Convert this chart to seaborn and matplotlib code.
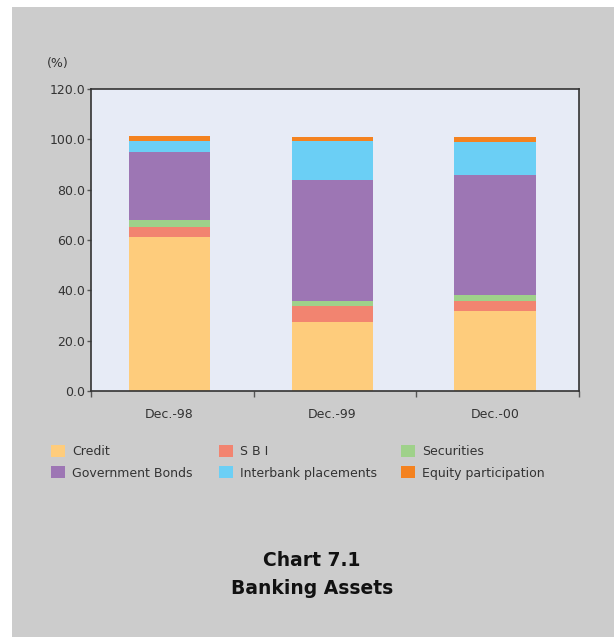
import matplotlib
matplotlib.use("Agg")
import matplotlib.pyplot as plt
from matplotlib.patches import Rectangle, Patch
import numpy as np
import pandas as pd
import seaborn as sns

# data (% of total banking assets)
periods = ["Dec.-98", "Dec.-99", "Dec.-00"]
series = ["Credit", "S B I", "Securities", "Government Bonds",
          "Interbank placements", "Equity participation"]
credit = [61.0, 27.6, 31.6]
sbi = [4.0, 6.0, 4.0]
securities = [3.1, 2.0, 2.7]
gov_bonds = [27.0, 48.4, 47.6]
interbank = [4.3, 15.4, 13.2]
equity = [2.0, 1.6, 1.9]
colors = ["#FECC7C", "#F28470", "#9FD18A", "#9D76B4", "#6BCFF5", "#F4821F"]

values = [credit, sbi, securities, gov_bonds, interbank, equity]
df = pd.DataFrame({"period": periods})
for name, v in zip(series, values):
    df[name] = v
# cumulative tops for stacking
cum = df[series].cumsum(axis=1)

sns.set_style("white")
plt.rcParams["font.family"] = ["DejaVu Sans"]
txt = "#333333"

fig = plt.figure(figsize=(6.14, 6.37), dpi=100)
fig.patch.set_facecolor("white")
fig.patches.append(Rectangle((12 / 614, 0), 1, 1 - 7 / 637, transform=fig.transFigure,
                             facecolor="#CCCCCC", edgecolor="none", zorder=-1))

ax = fig.add_axes([91 / 614, 1 - 391 / 637, 488 / 614, 302 / 637])
ax.set_facecolor("#E7EBF6")

# draw from the top layer down so lower layers cover the upper ones
for name, c in reversed(list(zip(series, colors))):
    plot_df = pd.DataFrame({"period": periods, "top": cum[name].values})
    sns.barplot(data=plot_df, x="period", y="top", color=c, width=0.5,
                saturation=1, ax=ax, edgecolor="none", linewidth=0)

# bars sit a touch left of the category centres in the original
d = 0.017
ax.set_xlim(-0.5 + d, 2.5 + d)
ax.set_ylim(0, 120)
ax.set_yticks(np.arange(0, 121, 20))
ax.set_yticklabels([f"{t:.1f}" for t in np.arange(0, 121, 20)], fontsize=9, color=txt)
ax.set_xticks([-0.5 + d, 0.5 + d, 1.5 + d, 2.5 + d])
ax.set_xticklabels([])
ax.set_xticks(range(3), minor=True)
ax.set_xticklabels(periods, minor=True, fontsize=9, color=txt)
ax.tick_params(axis="x", which="major", bottom=True, direction="out", length=4,
               color="#555555", width=1)
ax.tick_params(axis="x", which="minor", bottom=True, length=0, pad=12)
ax.tick_params(axis="y", left=True, direction="out", length=3, color="#555555",
               width=1, pad=1)
ax.set_xlabel("")
ax.set_ylabel("")
for s in ax.spines.values():
    s.set_color("#333333")
    s.set_linewidth(1.2)
    s.set_visible(True)

fig.text(58 / 614, 1 - 63 / 637, "(%)", fontsize=9, color=txt, ha="center", va="center")

# legend: three columns, placed separately
col_x = [46 / 614, 214 / 614, 396 / 614]
for i, x in enumerate(col_x):
    handles = [Patch(facecolor=colors[i], edgecolor="none", label=series[i]),
               Patch(facecolor=colors[i + 3], edgecolor="none", label=series[i + 3])]
    fig.legend(handles=handles, loc="upper left", bbox_to_anchor=(x, 1 - 440 / 637),
               frameon=False, fontsize=9, handlelength=1.1, handleheight=1.1,
               handletextpad=0.6, labelspacing=0.65, borderaxespad=0,
               labelcolor=txt)

fig.text(312 / 614, 1 - 561 / 637, "Chart 7.1", fontsize=13.5, fontweight="bold",
         ha="center", va="center", color="#111111")
fig.text(312 / 614, 1 - 588 / 637, "Banking Assets", fontsize=13.5, fontweight="bold",
         ha="center", va="center", color="#111111")

fig.savefig("out.png", dpi=100)
